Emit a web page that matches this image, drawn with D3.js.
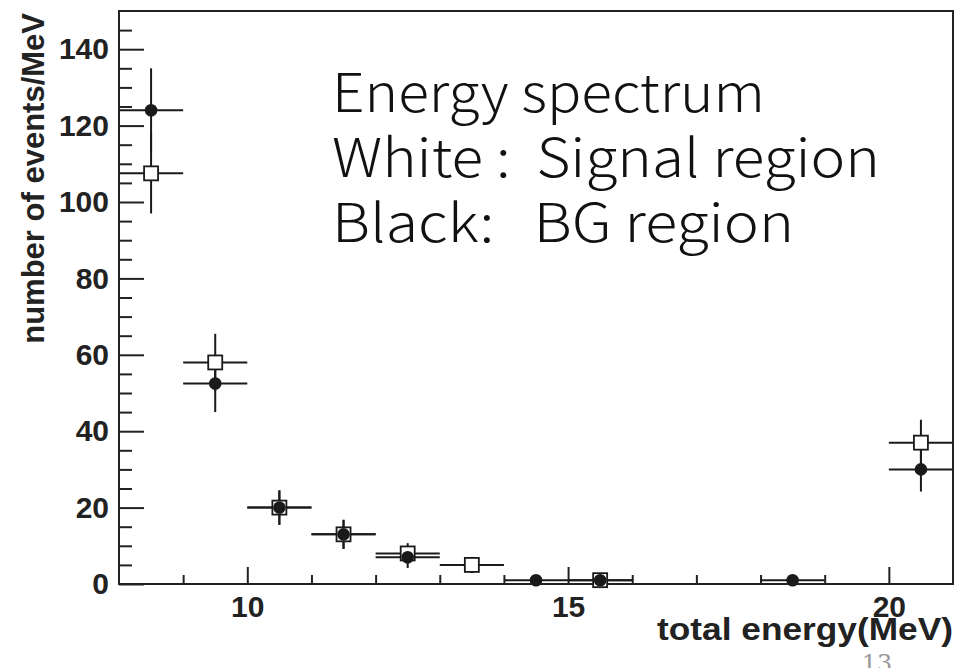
<!DOCTYPE html>
<html>
<head>
<meta charset="utf-8">
<script src="https://cdn.jsdelivr.net/npm/d3@7"></script>
<style>
  body { margin: 0; background: #fff; }
  svg { display: block; }
  .tick text { font-family: "Liberation Sans", Arial, sans-serif; font-weight: bold; font-size: 30px; fill: #222; }
  .tick line { stroke: #222; stroke-width: 2; }
</style>
</head>
<body>
<svg width="973" height="668"></svg>
<script>
// bin centres (MeV), counts/MeV and errors
var signalE   = [8.5, 9.5, 10.5, 11.5, 12.5, 13.5, 15.5, 20.5];
var signalN   = [107.5, 58, 20, 13, 8, 5, 1, 37];
var signalErr = [10.5, 7.5, 4.5, 3.8, 2.7, 2.1, 1, 6];

var bgE   = [8.5, 9.5, 10.5, 11.5, 12.5, 14.5, 15.5, 18.5, 20.5];
var bgN   = [124, 52.5, 20, 13, 7, 1, 1, 1, 30];
var bgErr = [11, 7.5, 4.5, 3.8, 2.8, 1, 1, 1, 5.8];

var xMajor = [10, 15, 20];
var xMinor = [9, 11, 12, 13, 14, 16, 17, 18, 19];
var yMajor = [0, 20, 40, 60, 80, 100, 120, 140];
var yMinor = d3.range(5, 150, 5).filter(function(v) { return v % 20 !== 0; });

var noteLines = ["Energy spectrum", "White :  Signal region", "Black:   BG region"];

var svg = d3.select("svg");
var plotLeft = 119, plotRight = 953, plotTop = 11, plotBottom = 584;
var binHalf = 0.5;

var x = d3.scaleLinear().domain([8, 21]).range([plotLeft, plotRight]);
var y = d3.scaleLinear().domain([0, 150]).range([plotBottom, plotTop]);

var toPoints = function(es, ns, errs) {
    return es.map(function(e, i) { return { e: e, n: ns[i], err: errs[i] }; });
};
var signal = toPoints(signalE, signalN, signalErr);
var bg = toPoints(bgE, bgN, bgErr);

// ticks (drawn inward)
svg.append("g").attr("transform", "translate(" + plotLeft + ",0)")
    .call(d3.axisLeft(y).tickValues(yMajor).tickSize(-25).tickPadding(10))
    .call(function(g) { g.select(".domain").remove(); });
svg.append("g").attr("transform", "translate(" + plotLeft + ",0)")
    .call(d3.axisLeft(y).tickValues(yMinor).tickSize(-13).tickFormat(""))
    .call(function(g) { g.select(".domain").remove(); });
svg.append("g").attr("transform", "translate(0," + plotBottom + ")")
    .call(d3.axisBottom(x).tickValues(xMajor).tickSize(-17).tickPadding(12))
    .call(function(g) { g.select(".domain").remove(); });
svg.append("g").attr("transform", "translate(0," + plotBottom + ")")
    .call(d3.axisBottom(x).tickValues(xMinor).tickSize(-9).tickFormat(""))
    .call(function(g) { g.select(".domain").remove(); });

// frame
svg.append("rect")
    .attr("x", plotLeft).attr("y", plotTop)
    .attr("width", plotRight - plotLeft).attr("height", plotBottom - plotTop)
    .attr("fill", "none").attr("stroke", "#222").attr("stroke-width", 2);

var drawErrors = function(data) {
    var g = svg.append("g").attr("stroke", "#1a1a1a").attr("stroke-width", 2);
    g.selectAll("line.h").data(data).enter().append("line")
        .attr("x1", function(d) { return x(d.e - binHalf); })
        .attr("x2", function(d) { return x(d.e + binHalf); })
        .attr("y1", function(d) { return y(d.n); })
        .attr("y2", function(d) { return y(d.n); });
    g.selectAll("line.v").data(data).enter().append("line")
        .attr("x1", function(d) { return x(d.e); })
        .attr("x2", function(d) { return x(d.e); })
        .attr("y1", function(d) { return y(Math.max(0, d.n - d.err)); })
        .attr("y2", function(d) { return y(d.n + d.err); });
};

drawErrors(bg);
drawErrors(signal);

// white squares: signal region
svg.append("g").selectAll("rect").data(signal).enter().append("rect")
    .attr("x", function(d) { return x(d.e) - 7; })
    .attr("y", function(d) { return y(d.n) - 7; })
    .attr("width", 14).attr("height", 14)
    .attr("fill", "#fff").attr("stroke", "#1a1a1a").attr("stroke-width", 1.8);

// black dots: BG region
svg.append("g").selectAll("circle").data(bg).enter().append("circle")
    .attr("cx", function(d) { return x(d.e); })
    .attr("cy", function(d) { return y(d.n); })
    .attr("r", 6.3)
    .attr("fill", "#1a1a1a");

// axis titles
svg.append("text")
    .attr("transform", "translate(44,13) rotate(-90)")
    .attr("text-anchor", "end")
    .style("font-family", "Liberation Sans, Arial, sans-serif")
    .style("font-weight", "bold").style("font-size", "31px").style("fill", "#222")
    .text("number of events/MeV");

svg.append("text")
    .attr("x", plotRight).attr("y", 640)
    .attr("text-anchor", "end")
    .attr("textLength", 296).attr("lengthAdjust", "spacingAndGlyphs")
    .style("font-family", "Liberation Sans, Arial, sans-serif")
    .style("font-weight", "bold").style("font-size", "31px").style("fill", "#222")
    .text("total energy(MeV)");

// annotation
var noteWidths = [433, 548, 462];
svg.append("g").selectAll("text").data(noteLines).enter().append("text")
    .attr("x", 332)
    .attr("y", function(d, i) { return 112 + i * 65; })
    .attr("textLength", function(d, i) { return noteWidths[i]; })
    .attr("lengthAdjust", "spacingAndGlyphs")
    .style("white-space", "pre")
    .style("font-family", "'Noto Sans CJK JP', 'Noto Sans', sans-serif")
    .style("font-weight", 300).style("font-size", "53px").style("fill", "#111")
    .text(function(d) { return d; });

// page number
svg.append("text")
    .attr("x", 877).attr("y", 672)
    .attr("text-anchor", "middle")
    .style("font-family", "'DejaVu Serif', serif")
    .style("font-size", "24px").style("fill", "#999")
    .text("13");
</script>
</body>
</html>
